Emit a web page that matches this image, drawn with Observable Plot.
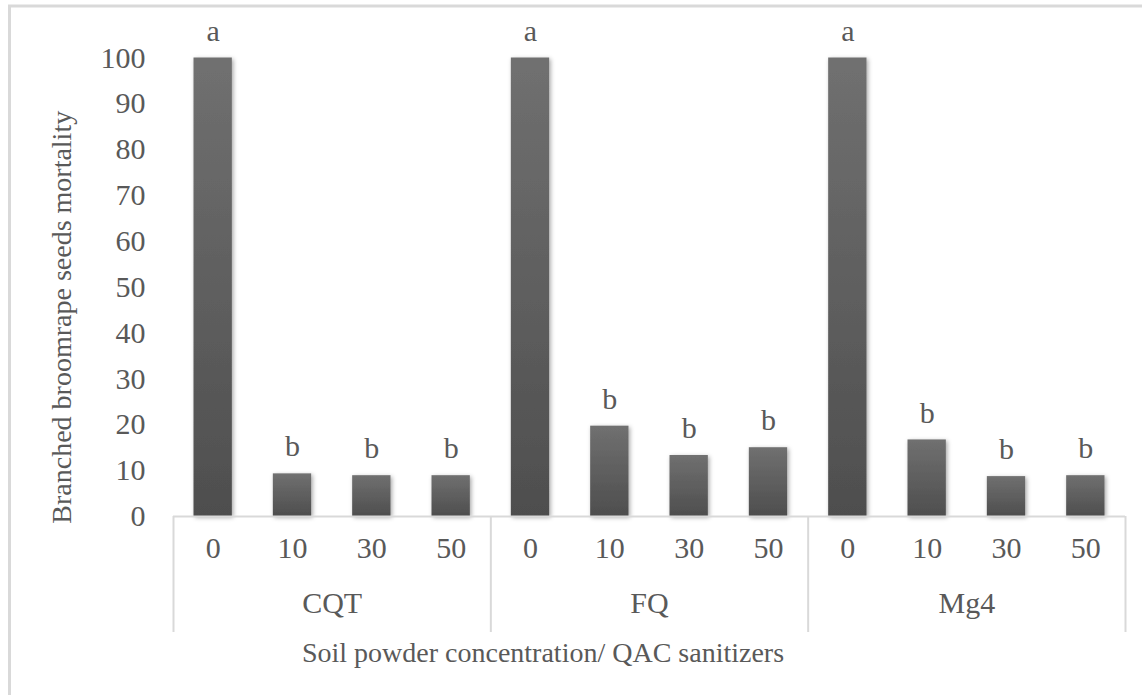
<!DOCTYPE html>
<html>
<head>
<meta charset="utf-8">
<script src="https://cdn.jsdelivr.net/npm/d3@7"></script>
<script src="https://cdn.jsdelivr.net/npm/@observablehq/plot@0.6"></script>
<style>
  body { margin: 0; background: #ffffff; }
  #chart svg { display: block; }
</style>
</head>
<body>
<div id="chart"></div>
<script>
// Mortality (%) of branched broomrape seeds by QAC sanitizer and soil powder concentration
const sanitizers = ["CQT", "FQ", "Mg4"];
const concentrations = ["0", "10", "30", "50"];
const mortalityCQT = [100, 9.3, 8.9, 8.9];
const mortalityFQ = [100, 19.7, 13.3, 15.0];
const mortalityMg4 = [100, 16.7, 8.7, 8.9];
const lettersCQT = ["a", "b", "b", "b"];
const lettersFQ = ["a", "b", "b", "b"];
const lettersMg4 = ["a", "b", "b", "b"];
const yTicks = [0, 10, 20, 30, 40, 50, 60, 70, 80, 90, 100];

const yTitle = "Branched broomrape seeds mortality";
const xTitle = "Soil powder concentration/ QAC sanitizers";

const mortality = [mortalityCQT, mortalityFQ, mortalityMg4];
const letters = [lettersCQT, lettersFQ, lettersMg4];

// one row per bar; "slot" is the bar's position along the category axis
const rows = sanitizers.flatMap((s, gi) =>
  concentrations.map((c, ci) => ({
    sanitizer: s,
    conc: c,
    value: mortality[gi][ci],
    letter: letters[gi][ci],
    slot: gi * concentrations.length + ci
  }))
);
const boundaries = d3.range(0, rows.length + 1, concentrations.length);
const groupCenters = sanitizers.map((s, gi) => ({
  sanitizer: s,
  mid: gi * concentrations.length + concentrations.length / 2
}));

const textColor = "#595959";
const lineColor = "#d9d9d9";
const tickFont = 30;
const titleFont = 28;

const chart = Plot.plot({
  width: 1142,
  height: 695,
  marginLeft: 173,
  marginRight: 17,
  marginTop: 57.5,
  marginBottom: 179,
  style: {
    fontFamily: "'Liberation Serif', 'Times New Roman', serif",
    color: textColor,
    background: "#ffffff"
  },
  x: { domain: [0, rows.length], axis: null },
  y: { domain: [0, 100], axis: null },
  marks: [
    Plot.axisY({
      ticks: yTicks,
      tickSize: 0,
      tickPadding: 28,
      label: null,
      fontSize: tickFont,
      fill: textColor
    }),
    Plot.rect(rows, {
      x1: "slot",
      x2: (d) => d.slot + 1,
      y1: 0,
      y2: "value",
      insetLeft: 20.5,
      insetRight: 20.5,
      fill: "url(#barShade)"
    }),
    // category axis line and group separators
    Plot.ruleY([0], { stroke: lineColor, strokeWidth: 2 }),
    Plot.ruleX(boundaries, { y1: 0, y2: -25.3, stroke: lineColor, strokeWidth: 2 }),
    // significance letters above each bar
    Plot.text(rows, {
      x: (d) => d.slot + 0.5,
      y: "value",
      text: "letter",
      dy: -27,
      fontSize: tickFont,
      fill: textColor
    }),
    // concentration labels
    Plot.text(rows, {
      x: (d) => d.slot + 0.5,
      text: "conc",
      frameAnchor: "bottom",
      dy: 41,
      fontSize: tickFont,
      fill: textColor
    }),
    // sanitizer labels
    Plot.text(groupCenters, {
      x: "mid",
      text: "sanitizer",
      frameAnchor: "bottom",
      dy: 96.5,
      fontSize: tickFont,
      fill: textColor
    }),
    // axis titles
    Plot.text([xTitle], {
      frameAnchor: "bottom",
      dx: -106.5,
      dy: 145,
      fontSize: titleFont,
      fill: textColor
    }),
    Plot.text([yTitle], {
      frameAnchor: "left",
      textAnchor: "middle",
      rotate: -90,
      dx: -111.5,
      dy: 30,
      fontSize: titleFont,
      fill: textColor
    })
  ]
});

// bar shading and soft shadow
const svg = d3.select(chart);
const defs = svg.insert("defs", ":first-child");
const grad = defs.append("linearGradient")
  .attr("id", "barShade")
  .attr("x1", 0).attr("y1", 0).attr("x2", 0).attr("y2", 1);
grad.append("stop").attr("offset", "0%").attr("stop-color", "#707070");
grad.append("stop").attr("offset", "100%").attr("stop-color", "#4e4e4e");
const shadow = defs.append("filter")
  .attr("id", "barShadow")
  .attr("x", "-30%").attr("y", "-10%").attr("width", "160%").attr("height", "120%");
shadow.append("feDropShadow")
  .attr("dx", 1.5).attr("dy", 1.5).attr("stdDeviation", 2)
  .attr("flood-color", "#000000").attr("flood-opacity", 0.35);
svg.selectAll("g[aria-label='rect']").attr("filter", "url(#barShadow)");

// chart area frame (top and left edges)
svg.append("path")
  .attr("d", "M9.5,695V6H1142")
  .attr("fill", "none")
  .attr("stroke", lineColor)
  .attr("stroke-width", 3);

document.getElementById("chart").append(chart);
</script>
</body>
</html>
